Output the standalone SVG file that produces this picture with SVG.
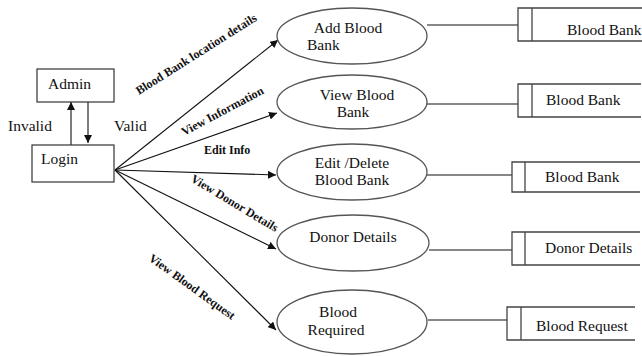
<svg xmlns="http://www.w3.org/2000/svg" width="642" height="356" viewBox="0 0 642 356">
<style>
text{font-family:"Liberation Serif","Times New Roman",serif;fill:#111}
.t{font-size:15.5px}
.l{font-size:12px;font-weight:bold}
.box{fill:#fff;stroke:#333;stroke-width:1.2}
.ell{fill:#fff;stroke:#555;stroke-width:1.3}
.ln{stroke:#111;stroke-width:1.1;fill:none}
.st{stroke:#444;stroke-width:1.3;fill:none}
</style>
<defs>
<marker id="ah" viewBox="0 0 10 10" refX="10" refY="5" markerWidth="8" markerHeight="8" markerUnits="userSpaceOnUse" orient="auto">
<path d="M0,0 L10,5 L0,10 z" fill="#111"/>
</marker>
</defs>
<rect width="642" height="356" fill="#fff"/>
<g id="connectors">
<line class="ln" x1="71" y1="145" x2="71" y2="102" marker-end="url(#ah)"/>
<line class="ln" x1="88" y1="102" x2="88" y2="143" marker-end="url(#ah)"/>
<line class="ln" x1="115" y1="170" x2="278" y2="40" marker-end="url(#ah)"/>
<line class="ln" x1="115" y1="170" x2="277" y2="113" marker-end="url(#ah)"/>
<line class="ln" x1="115" y1="170" x2="276" y2="175" marker-end="url(#ah)"/>
<line class="ln" x1="115" y1="170" x2="276" y2="249" marker-end="url(#ah)"/>
<line class="ln" x1="115" y1="170" x2="276" y2="330" marker-end="url(#ah)"/>
<line class="ln" x1="427" y1="25" x2="518" y2="25"/>
<line class="ln" x1="427" y1="104" x2="518" y2="104"/>
<line class="ln" x1="427" y1="175" x2="512" y2="175"/>
<line class="ln" x1="429" y1="250" x2="512" y2="250"/>
<line class="ln" x1="428" y1="320" x2="507" y2="320"/>
<text class="t" x="8" y="131">Invalid</text>
<text class="t" x="114" y="131">Valid</text>
<text class="l" transform="translate(139,95) rotate(-32.3)">Blood Bank location details</text>
<text class="l" transform="translate(184,136) rotate(-28)">View Information</text>
<text class="l" x="204" y="154">Edit Info</text>
<text class="l" transform="translate(190,181) rotate(31)">View Donor Details</text>
<text class="l" transform="translate(148,260) rotate(35.7)">View Blood Request</text>
</g>
<g id="admin">
<rect class="box" x="37" y="69" width="77" height="33"/>
<text class="t" x="48" y="89">Admin</text>
</g>
<g id="login">
<rect class="box" x="32" y="145" width="82" height="37"/>
<text class="t" x="41" y="164">Login</text>
</g>
<g id="add-blood-bank">
<ellipse class="ell" cx="352" cy="36" rx="75" ry="28"/>
<text class="t" x="348" y="33" text-anchor="middle">Add Blood</text>
<text class="t" x="307" y="50">Bank</text>
</g>
<g id="view-blood-bank">
<ellipse class="ell" cx="352" cy="102" rx="75" ry="27"/>
<text class="t" x="357" y="100" text-anchor="middle">View Blood</text>
<text class="t" x="353" y="117" text-anchor="middle">Bank</text>
</g>
<g id="edit-delete-blood-bank">
<ellipse class="ell" cx="352" cy="172" rx="75" ry="28"/>
<text class="t" x="352" y="168" text-anchor="middle">Edit /Delete</text>
<text class="t" x="352" y="185" text-anchor="middle">Blood Bank</text>
</g>
<g id="donor-details">
<ellipse class="ell" cx="353" cy="243" rx="76" ry="28"/>
<text class="t" x="353" y="242" text-anchor="middle">Donor Details</text>
</g>
<g id="blood-required">
<ellipse class="ell" cx="352" cy="322" rx="75" ry="32"/>
<text class="t" x="338" y="317" text-anchor="middle">Blood</text>
<text class="t" x="336" y="335" text-anchor="middle">Required</text>
</g>
<g id="store-1">
<path class="st" d="M642,8 H518 V41 H642 M532,8 V41"/>
<text class="t" x="567" y="35">Blood Bank</text>
</g>
<g id="store-2">
<path class="st" d="M641,84 H518 V117 H641 M532,84 V117"/>
<text class="t" x="546" y="105">Blood Bank</text>
</g>
<g id="store-3">
<path class="st" d="M640,162 H512 V192 H640 M525,162 V192"/>
<text class="t" x="545" y="182">Blood Bank</text>
</g>
<g id="store-4">
<path class="st" d="M640,232 H512 V265 H640 M525,232 V265"/>
<text class="t" x="545" y="253">Donor Details</text>
</g>
<g id="store-5">
<path class="st" d="M635,307 H507 V340 H635 M521,307 V340"/>
<text class="t" x="536" y="331">Blood Request</text>
</g>
</svg>
